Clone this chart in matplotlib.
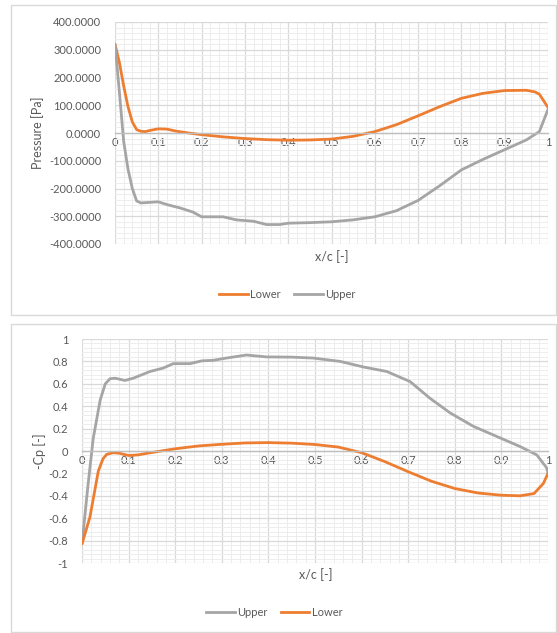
import matplotlib
matplotlib.use("Agg")
import matplotlib.pyplot as plt
from matplotlib.ticker import MultipleLocator, FixedLocator
from matplotlib.patches import Rectangle
from matplotlib.lines import Line2D

plt.rcParams['font.family'] = ['Lato', 'DejaVu Sans']
plt.rcParams['axes.unicode_minus'] = False

# ---- Top chart: pressure [Pa] ----
p_lower_x = [0, 0.01, 0.02, 0.03, 0.04, 0.05, 0.06, 0.07, 0.08, 0.10, 0.12, 0.14, 0.17, 0.20,
             0.25, 0.30, 0.35, 0.40, 0.45, 0.50, 0.55, 0.60, 0.65, 0.70, 0.75, 0.80, 0.85,
             0.90, 0.95, 0.97, 0.98, 1.0]
p_lower_y = [320, 255, 170, 95, 40, 12, 6, 5, 9, 15, 14, 7, 0, -6,
             -14, -20, -24, -26, -25, -22, -12, 5, 30, 62, 95, 125, 143,
             153, 154, 148, 140, 92]
p_upper_x = [0, 0.01, 0.02, 0.03, 0.04, 0.05, 0.06, 0.08, 0.10, 0.12, 0.15, 0.18, 0.20, 0.25,
             0.28, 0.32, 0.35, 0.38, 0.40, 0.45, 0.50, 0.55, 0.60, 0.65, 0.70, 0.75, 0.80,
             0.85, 0.90, 0.95, 0.98, 1.0]
p_upper_y = [320, 150, -30, -130, -200, -245, -252, -250, -248, -258, -270, -285, -302, -302,
             -313, -318, -330, -330, -325, -323, -320, -313, -302, -280, -243, -190, -133,
             -95, -60, -25, 5, 85]

# ---- Bottom chart: -Cp [-] ----
cp_upper_x = [0, 0.013, 0.024, 0.039, 0.05, 0.06, 0.071, 0.092, 0.11, 0.146, 0.174, 0.196, 0.232,
              0.257, 0.282, 0.31, 0.353, 0.396, 0.45, 0.496, 0.554, 0.604, 0.654, 0.704, 0.747,
              0.79, 0.84, 0.89, 0.94, 0.976, 0.997, 1.0]
cp_upper_y = [-0.83, -0.3, 0.11, 0.455, 0.6, 0.645, 0.65, 0.63, 0.65, 0.71, 0.74, 0.78, 0.78,
              0.805, 0.81, 0.83, 0.857, 0.84, 0.838, 0.83, 0.80, 0.75, 0.71, 0.62, 0.47,
              0.34, 0.22, 0.13, 0.04, -0.035, -0.15, -0.2]
cp_lower_x = [0, 0.017, 0.035, 0.045, 0.053, 0.067, 0.08, 0.10, 0.12, 0.14, 0.17, 0.20, 0.25,
              0.30, 0.35, 0.40, 0.45, 0.50, 0.55, 0.60, 0.65, 0.70, 0.75, 0.80, 0.85, 0.90,
              0.94, 0.97, 0.99, 1.0]
cp_lower_y = [-0.83, -0.59, -0.18, -0.07, -0.03, -0.015, -0.02, -0.04, -0.035, -0.02, 0.0, 0.02, 0.045,
              0.06, 0.072, 0.075, 0.07, 0.058, 0.035, -0.015, -0.095, -0.185, -0.27, -0.335, -0.375, -0.395,
              -0.40, -0.38, -0.29, -0.2]

x_ticks = [0, 0.1, 0.2, 0.3, 0.4, 0.5, 0.6, 0.7, 0.8, 0.9, 1]
x_tick_labels = ['0', '0.1', '0.2', '0.3', '0.4', '0.5', '0.6', '0.7', '0.8', '0.9', '1']
p_ticks = [-400, -300, -200, -100, 0, 100, 200, 300, 400]
p_tick_labels = ['-400.0000', '-300.0000', '-200.0000', '-100.0000', '0.0000',
                 '100.0000', '200.0000', '300.0000', '400.0000']
cp_ticks = [-1, -0.8, -0.6, -0.4, -0.2, 0, 0.2, 0.4, 0.6, 0.8, 1]
cp_tick_labels = ['-1', '-0.8', '-0.6', '-0.4', '-0.2', '0', '0.2', '0.4', '0.6', '0.8', '1']

ORANGE = '#ED7D31'
GRAY = '#A5A5A5'
TXT = '#595959'

W, H = 557, 633
fig = plt.figure(figsize=(W / 100, H / 100), dpi=100)

def fx(px):
    return px / W

def fy(py):
    return 1 - py / H

# chart area borders
for (x0, y0, x1, y1) in [(11, 5, 556, 315), (11, 324, 556, 632)]:
    fig.patches.append(Rectangle((fx(x0), fy(y1)), fx(x1) - fx(x0), fy(y0) - fy(y1),
                                 transform=fig.transFigure, fill=False,
                                 edgecolor='#D9D9D9', linewidth=1.0))

def style_axes(ax, xmin, xmax, ymin, ymax, ymajor, yminor, yticks, ylabels):
    ax.set_xlim(xmin, xmax)
    ax.set_ylim(ymin, ymax)
    ax.xaxis.set_major_locator(FixedLocator(x_ticks))
    ax.set_xticklabels(x_tick_labels)
    ax.xaxis.set_minor_locator(MultipleLocator(0.02))
    ax.yaxis.set_major_locator(FixedLocator(yticks))
    ax.set_yticklabels(ylabels)
    ax.yaxis.set_minor_locator(MultipleLocator(yminor))
    ax.grid(which='major', color='#D9D9D9', linewidth=0.9)
    ax.grid(which='minor', color='#EDEDED', linewidth=0.7)
    ax.set_axisbelow(True)
    for s in ['top', 'right', 'left']:
        ax.spines[s].set_visible(False)
    ax.spines['bottom'].set_position(('data', 0))
    ax.spines['bottom'].set_color('#BFBFBF')
    ax.spines['bottom'].set_linewidth(1.0)
    ax.tick_params(which='both', length=0)
    ax.tick_params(axis='x', labelsize=8, colors=TXT, pad=3)
    ax.tick_params(axis='y', labelsize=8, colors=TXT, pad=10)

# ---- top axes ----
ax1 = fig.add_axes([fx(115), fy(244), fx(548) - fx(115), fy(22) - fy(244)])
style_axes(ax1, 0, 1, -400, 400, 100, 20, p_ticks, p_tick_labels)
ax1.plot(p_lower_x, p_lower_y, color=ORANGE, linewidth=2.0, solid_capstyle='round')
ax1.plot(p_upper_x, p_upper_y, color=GRAY, linewidth=2.0, solid_capstyle='round')
fig.text(fx(38), fy(133), 'Pressure [Pa]', rotation=90, ha='center', va='center',
         fontsize=9, color=TXT)
fig.text(fx(332), fy(257), 'x/c [-]', ha='center', va='center', fontsize=9, color=TXT)
h1 = [Line2D([], [], color=ORANGE, linewidth=2.0), Line2D([], [], color=GRAY, linewidth=2.0)]
fig.legend(h1, ['Lower', 'Upper'], loc='center', bbox_to_anchor=(fx(287), fy(294)),
           ncol=2, frameon=False, fontsize=8, handlelength=2.6, handletextpad=0.2,
           columnspacing=1.2, labelcolor=TXT)

# ---- bottom axes ----
ax2 = fig.add_axes([fx(82), fy(563), fx(548) - fx(82), fy(339) - fy(563)])
style_axes(ax2, 0, 1, -1, 1, 0.2, 0.04, cp_ticks, cp_tick_labels)
ax2.plot(cp_upper_x, cp_upper_y, color=GRAY, linewidth=2.0, solid_capstyle='round')
ax2.plot(cp_lower_x, cp_lower_y, color=ORANGE, linewidth=2.0, solid_capstyle='round')
fig.text(fx(40), fy(451), '-Cp [-]', rotation=90, ha='center', va='center',
         fontsize=9, color=TXT)
fig.text(fx(316), fy(575), 'x/c [-]', ha='center', va='center', fontsize=9, color=TXT)
h2 = [Line2D([], [], color=GRAY, linewidth=2.0), Line2D([], [], color=ORANGE, linewidth=2.0)]
fig.legend(h2, ['Upper', 'Lower'], loc='center', bbox_to_anchor=(fx(274), fy(612)),
           ncol=2, frameon=False, fontsize=8, handlelength=2.6, handletextpad=0.2,
           columnspacing=1.2, labelcolor=TXT)

fig.savefig('out.png', dpi=100, facecolor='white')
